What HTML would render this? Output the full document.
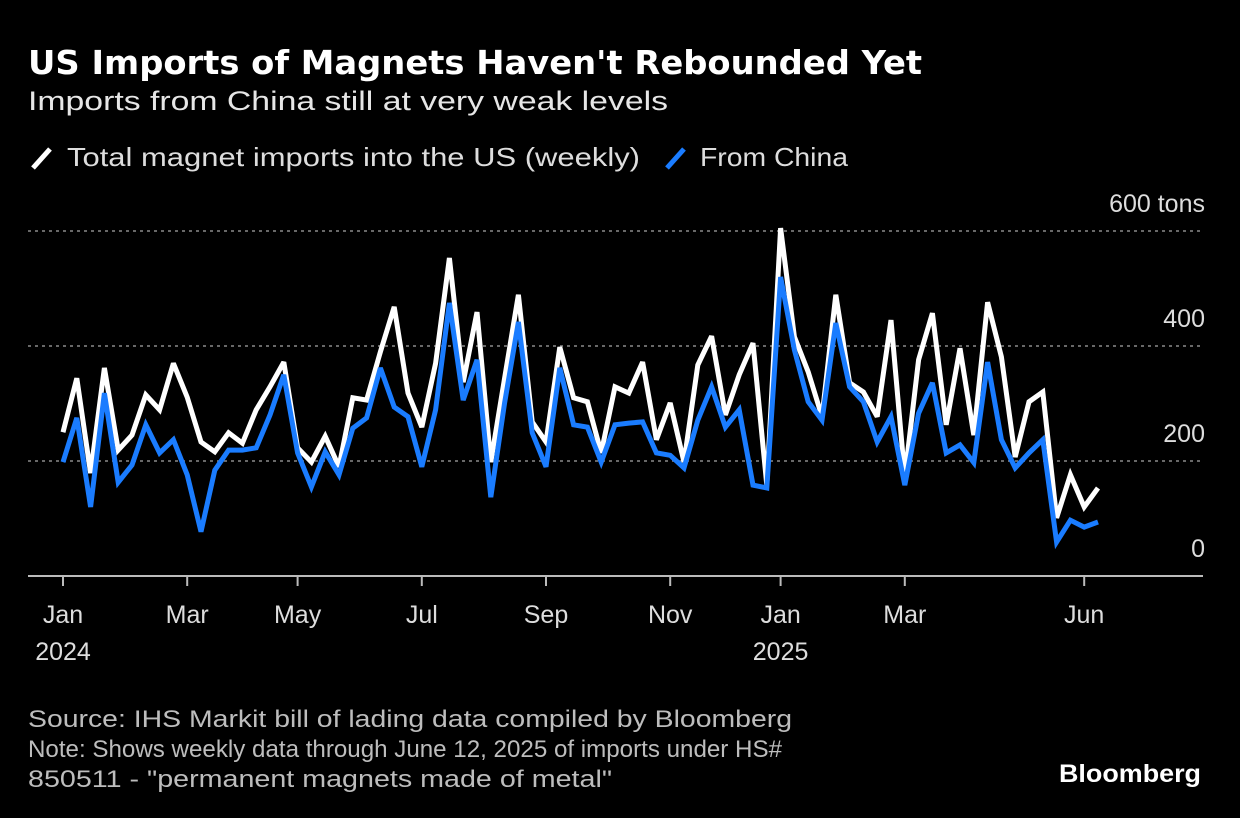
<!DOCTYPE html>
<html><head><meta charset="utf-8">
<style>
html,body{margin:0;padding:0;background:#000;}
svg{display:block;font-family:"Liberation Sans","DejaVu Sans",sans-serif;}
</style></head>
<body>
<svg id="chart" width="1240" height="818" viewBox="0 0 1240 818" xmlns="http://www.w3.org/2000/svg">
<rect x="0" y="0" width="1240" height="818" fill="#000"/>
<text x="28" y="74" fill="#fff" font-size="33" font-weight="bold" font-family="DejaVu Sans, sans-serif" textLength="894" lengthAdjust="spacingAndGlyphs">US Imports of Magnets Haven't Rebounded Yet</text>
<text x="28" y="110" fill="#e6e6e6" font-size="27" textLength="640" lengthAdjust="spacingAndGlyphs">Imports from China still at very weak levels</text>
<g>
<line x1="33" y1="168" x2="50" y2="149" stroke="#fff" stroke-width="5"/>
<text x="67" y="166" fill="#ddd" font-size="26" textLength="573" lengthAdjust="spacingAndGlyphs">Total magnet imports into the US (weekly)</text>
<line x1="667" y1="168" x2="684" y2="149" stroke="#1a7cff" stroke-width="5"/>
<text x="700" y="166" fill="#ddd" font-size="26" textLength="148" lengthAdjust="spacingAndGlyphs">From China</text>
</g>
<g id="grid"></g>
<g id="xaxis"></g>
<g id="series"></g>
<text x="28" y="727" fill="#bdbdbd" font-size="24" textLength="764" lengthAdjust="spacingAndGlyphs">Source: IHS Markit bill of lading data compiled by Bloomberg</text>
<text x="28" y="757" fill="#bdbdbd" font-size="24" textLength="754" lengthAdjust="spacingAndGlyphs">Note: Shows weekly data through June 12, 2025 of imports under HS#</text>
<text x="28" y="787" fill="#bdbdbd" font-size="24" textLength="584" lengthAdjust="spacingAndGlyphs">850511 - "permanent magnets made of metal"</text>
<text x="1201" y="782" fill="#fff" font-size="25" font-weight="bold" text-anchor="end" textLength="142" lengthAdjust="spacingAndGlyphs">Bloomberg</text>
</svg>
<script>
const totalValues = [250,344,179,362,219,245,315,289,370,311,233,216,249,231,289,329,372,223,198,243,190,310,306,390,468,318,259,370,553,337,459,198,344,489,268,233,398,310,303,214,329,318,372,237,301,198,367,417,280,350,405,158,605,416,355,277,489,336,320,277,445,172,376,457,263,396,245,476,381,207,303,320,101,176,120,153];
const chinaValues = [198,275,120,318,163,193,263,214,237,176,77,184,219,219,223,280,350,214,155,216,176,257,275,362,294,277,190,289,475,306,376,137,301,442,249,190,362,263,259,198,263,266,268,214,210,188,271,329,259,289,158,153,520,393,303,271,440,329,303,233,277,158,283,336,214,228,197,372,237,188,214,237,59,97,85,94];
const yTicks = [0,200,400,600];
const yTickLabels = ["0","200","400","600 tons"];
const firstWeek = "2024-01-04";
const monthNames = ["Jan","Feb","Mar","Apr","May","Jun","Jul","Aug","Sep","Oct","Nov","Dec"];
const shownMonths = [0,2,4,6,8,10];

const NS="http://www.w3.org/2000/svg";
const X0=63, DX=13.8, Y0=576, KY=0.575;
function xs(i){return X0+i*DX;}
function ys(v){return Y0-v*KY;}
function mk(tag,attrs,parent){const e=document.createElementNS(NS,tag);for(const k in attrs)e.setAttribute(k,attrs[k]);parent.appendChild(e);return e;}

const grid=document.getElementById('grid');
yTicks.forEach((t,i)=>{
  if(t>0){
    const g=mk('line',{x1:28,x2:1200,y1:ys(t),y2:ys(t),stroke:'#8a8a8a','stroke-width':1.5,'stroke-dasharray':'3 4'},grid);
    
    
  }
  const l=mk('text',{x:1205,y:ys(t)-19,fill:'#ddd','font-size':25,'text-anchor':'end'},grid);
  l.textContent=yTickLabels[i];
  
  
});

const xa=document.getElementById('xaxis');
const axis=mk('line',{x1:28,x2:1203,y1:Y0,y2:Y0,stroke:'#bbb','stroke-width':2},xa);


const start=new Date(firstWeek+"T00:00:00Z");
let prevMonth=-1;
for(let i=0;i<totalValues.length;i++){
  const d=new Date(start.getTime()+i*7*86400000);
  const m=d.getUTCMonth(), yr=d.getUTCFullYear();
  if(m!==prevMonth){
    prevMonth=m;
    if(shownMonths.includes(m) || (yr===2025 && (m===5))){
      if(yr===2025 && m===4) continue;
      const x=xs(i);
      const tk=mk('line',{x1:x,x2:x,y1:Y0,y2:Y0+10,stroke:'#bbb','stroke-width':2},xa);
      
      
      const t=mk('text',{x:x,y:623,fill:'#ddd','font-size':25,'text-anchor':'middle'},xa);
      t.textContent=monthNames[m];
      
      
      if(m===0){
        const ty=mk('text',{x:x,y:660,fill:'#ddd','font-size':25,'text-anchor':'middle'},xa);
        ty.textContent=String(yr);
        
        
      }
    }
  }
}

const ser=document.getElementById('series');
function path(vals){return vals.map((v,i)=>(i?'L':'M')+xs(i).toFixed(1)+' '+ys(v).toFixed(1)).join(' ');}
const wl=mk('path',{d:path(totalValues),fill:'none',stroke:'#fff','stroke-width':5,'stroke-linejoin':'miter','stroke-miterlimit':3},ser);


const bl=mk('path',{d:path(chinaValues),fill:'none',stroke:'#1a7cff','stroke-width':5,'stroke-linejoin':'miter','stroke-miterlimit':3},ser);


</script>
</body></html>
